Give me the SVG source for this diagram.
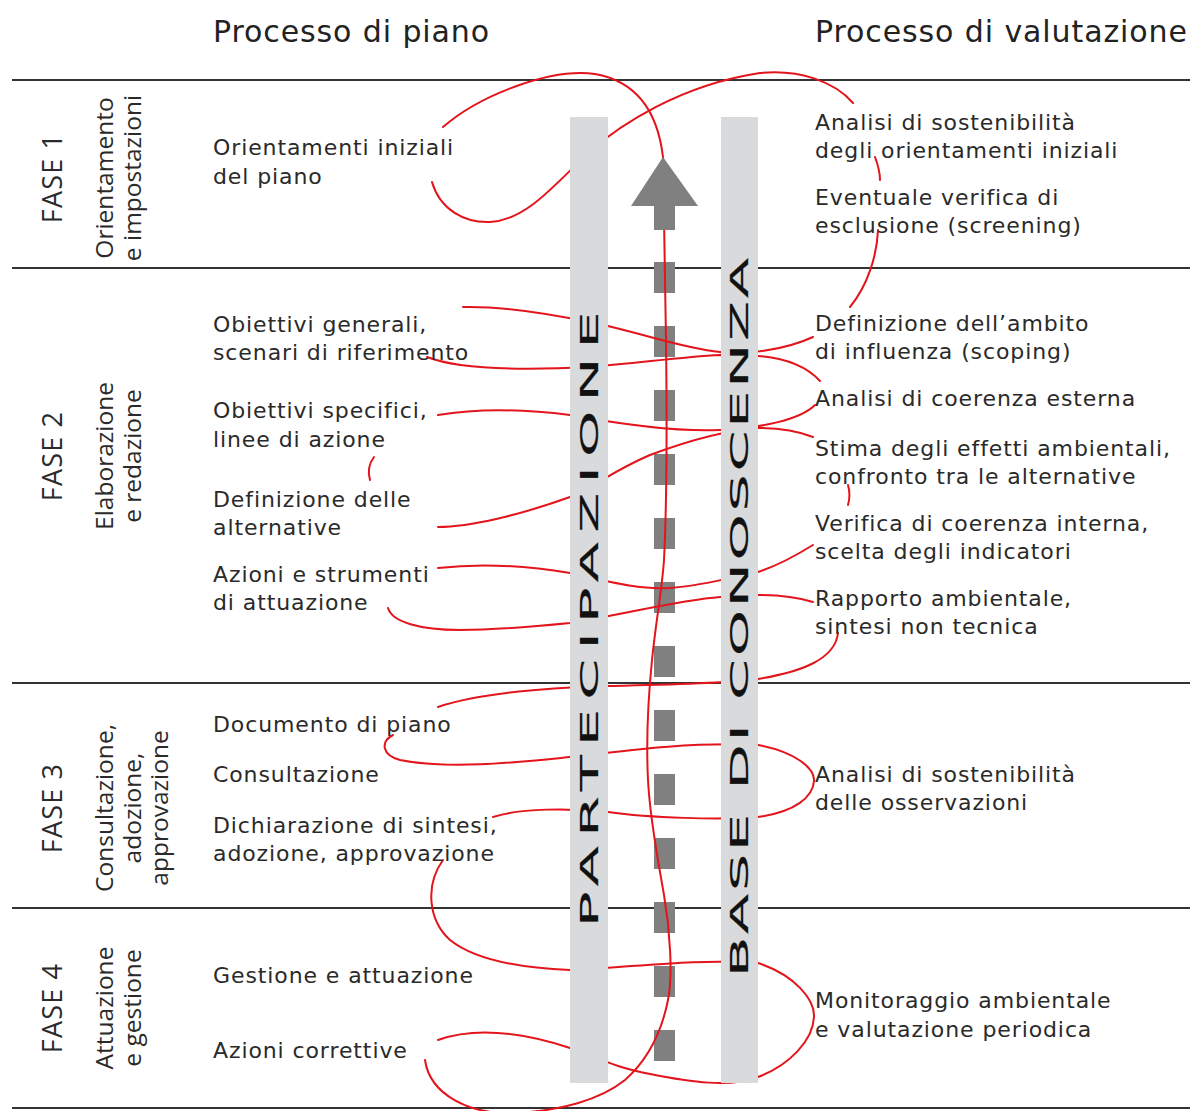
<svg xmlns="http://www.w3.org/2000/svg" width="1190" height="1111" viewBox="0 0 1190 1111">
<style>
.sep{stroke:#333;stroke-width:2;fill:none}
.bar{fill:#d9dadc}
.arw{fill:#808080}
.red{stroke:#e3141b;stroke-width:2;fill:none;stroke-linecap:round}
.hd{font-family:"DejaVu Sans",Verdana,sans-serif;font-size:30px;letter-spacing:0.9px;fill:#222}
.tx{font-family:"DejaVu Sans",Verdana,sans-serif;font-size:22px;letter-spacing:0.9px;fill:#2a2a2a}
.fs{font-family:"Open Sans","Noto Sans",sans-serif;font-size:27px;letter-spacing:1.2px;fill:#2a2a2a;text-anchor:middle}
.fd{font-family:"Open Sans","Noto Sans",sans-serif;font-size:24.5px;fill:#2a2a2a;text-anchor:middle}
.big{font-family:"DejaVu Sans",Verdana,sans-serif;font-size:25px;fill:#111;stroke:#111;stroke-width:0.2}
</style>
<rect width="1190" height="1111" fill="#fff"/>
<g id="separators">
<line class="sep" x1="12" y1="80" x2="1190" y2="80"/>
<line class="sep" x1="12" y1="268" x2="1190" y2="268"/>
<line class="sep" x1="12" y1="683" x2="1190" y2="683"/>
<line class="sep" x1="12" y1="908" x2="1190" y2="908"/>
<line class="sep" x1="12" y1="1108" x2="1190" y2="1108"/>
</g>
<g id="dashes" class="arw">
<rect x="654" y="262" width="21" height="31"/>
<rect x="654" y="326" width="21" height="31"/>
<rect x="654" y="390" width="21" height="31"/>
<rect x="654" y="454" width="21" height="31"/>
<rect x="654" y="518" width="21" height="31"/>
<rect x="654" y="582" width="21" height="31"/>
<rect x="654" y="646" width="21" height="31"/>
<rect x="654" y="710" width="21" height="31"/>
<rect x="654" y="774" width="21" height="31"/>
<rect x="654" y="838" width="21" height="31"/>
<rect x="654" y="902" width="21" height="31"/>
<rect x="654" y="966" width="21" height="31"/>
<rect x="654" y="1030" width="21" height="31"/>
</g>
<g id="connectors" class="red">
<path d="M425,1060 C430,1095 470,1115 515,1113 C560,1111 600,1100 625,1080 C650,1058 662,1030 668,1000 C673,975 670,930 664,895 C658,860 650,820 648,780 C646,740 648,700 652,660 C656,620 662,590 664,560 C667,500 667,420 666,340 C665,280 664,220 663,157 C658,115 640,82 595,74 C550,68 480,95 443,127"/>
<path d="M432,182 C440,210 465,223 490,222 C525,220 550,190 589,152 C620,125 680,85 760,73 C800,69 835,82 853,103"/>
<path d="M875,157 C878,165 880,172 880,180"/>
<path d="M878,230 C877,255 868,285 850,307"/>
<path d="M813,337 C785,350 745,355 720,352 C680,348 640,332 589,322 C540,312 500,306 463,307"/>
<path d="M820,381 C805,365 785,358 758,356 L720,355 C680,357 640,363 589,367 C530,370 460,370 427,357"/>
<path d="M438,415 C480,408 530,410 570,415 C620,424 680,432 720,430 C760,428 800,420 815,405"/>
<path d="M813,437 C795,430 775,428 758,428 C730,430 690,440 650,455 C610,472 590,490 570,497 C520,515 470,527 438,527"/>
<path d="M374,457 C368,465 368,473 370,480"/>
<path d="M848,485 C850,492 850,498 848,505"/>
<path d="M438,568 C490,562 540,568 570,573 C610,582 640,590 670,588 C700,586 730,578 758,572 C780,565 800,553 813,545"/>
<path d="M388,608 C392,622 420,630 460,630 C500,630 540,626 570,623 C620,615 680,600 720,597 L758,595 C785,595 800,598 813,602"/>
<path d="M838,633 C835,660 800,672 758,679 C720,684 650,685 608,686 C540,688 480,693 438,707"/>
<path d="M393,735 C380,742 382,755 400,760 C450,770 520,762 570,757 C630,750 690,742 758,745 C795,752 815,768 814,781 C813,797 795,812 758,817 C720,820 650,818 608,812 C570,808 520,808 493,817"/>
<path d="M443,860 C425,885 428,920 450,940 C475,960 520,968 570,970 C630,968 690,958 758,963 C795,975 815,1000 814,1017 C813,1040 790,1065 758,1077 C730,1088 690,1082 650,1074 C610,1066 600,1058 570,1048 C530,1035 480,1025 438,1040"/>
</g>
<g id="arrow-head" class="arw">
<polygon points="663,157 698,206 631,206"/>
<rect x="654" y="205" width="21" height="25"/>
</g>
<g id="bar-partecipazione">
<rect class="bar" x="570" y="117" width="38" height="966"/>
<text class="big" transform="translate(598,927) rotate(-90) scale(2.35,1)" textLength="262" lengthAdjust="spacing">PARTECIPAZIONE</text>
</g>
<g id="bar-conoscenza">
<rect class="bar" x="721" y="117" width="37" height="966"/>
<text class="big" transform="translate(748,977) rotate(-90) scale(2.35,1)" textLength="306" lengthAdjust="spacing">BASE DI CONOSCENZA</text>
</g>
<g id="headers">
<text class="hd" x="213" y="42">Processo di piano</text>
<text class="hd" x="815" y="42">Processo di valutazione</text>
</g>
<g id="fase1">
<text class="fs" transform="translate(62,178) rotate(-90)">FASE 1</text>
<text class="fd" transform="translate(113,178) rotate(-90)">Orientamento</text>
<text class="fd" transform="translate(141,178) rotate(-90)">e impostazioni</text>
</g>
<g id="fase2">
<text class="fs" transform="translate(62,456) rotate(-90)">FASE 2</text>
<text class="fd" transform="translate(113,456) rotate(-90)">Elaborazione</text>
<text class="fd" transform="translate(141,456) rotate(-90)">e redazione</text>
</g>
<g id="fase3">
<text class="fs" transform="translate(62,808) rotate(-90)">FASE 3</text>
<text class="fd" transform="translate(113,808) rotate(-90)">Consultazione,</text>
<text class="fd" transform="translate(141,808) rotate(-90)">adozione,</text>
<text class="fd" transform="translate(168,808) rotate(-90)">approvazione</text>
</g>
<g id="fase4">
<text class="fs" transform="translate(62,1008) rotate(-90)">FASE 4</text>
<text class="fd" transform="translate(113,1008) rotate(-90)">Attuazione</text>
<text class="fd" transform="translate(141,1008) rotate(-90)">e gestione</text>
</g>
<g id="piano-orientamenti"><text class="tx" x="213" y="155">Orientamenti iniziali</text><text class="tx" x="213" y="184">del piano</text></g>
<g id="piano-obiettivi-generali"><text class="tx" x="213" y="332">Obiettivi generali,</text><text class="tx" x="213" y="360">scenari di riferimento</text></g>
<g id="piano-obiettivi-specifici"><text class="tx" x="213" y="418">Obiettivi specifici,</text><text class="tx" x="213" y="447">linee di azione</text></g>
<g id="piano-alternative"><text class="tx" x="213" y="507">Definizione delle</text><text class="tx" x="213" y="535">alternative</text></g>
<g id="piano-azioni"><text class="tx" x="213" y="582">Azioni e strumenti</text><text class="tx" x="213" y="610">di attuazione</text></g>
<g id="piano-documento"><text class="tx" x="213" y="732">Documento di piano</text></g>
<g id="piano-consultazione"><text class="tx" x="213" y="782">Consultazione</text></g>
<g id="piano-dichiarazione"><text class="tx" x="213" y="833">Dichiarazione di sintesi,</text><text class="tx" x="213" y="861">adozione, approvazione</text></g>
<g id="piano-gestione"><text class="tx" x="213" y="983">Gestione e attuazione</text></g>
<g id="piano-correttive"><text class="tx" x="213" y="1058">Azioni correttive</text></g>
<g id="val-sostenibilita"><text class="tx" x="815" y="130">Analisi di sostenibilità</text><text class="tx" x="815" y="158">degli orientamenti iniziali</text></g>
<g id="val-screening"><text class="tx" x="815" y="205">Eventuale verifica di</text><text class="tx" x="815" y="233">esclusione (screening)</text></g>
<g id="val-scoping"><text class="tx" x="815" y="331">Definizione dell’ambito</text><text class="tx" x="815" y="359">di influenza (scoping)</text></g>
<g id="val-coerenza-esterna"><text class="tx" x="815" y="406">Analisi di coerenza esterna</text></g>
<g id="val-stima"><text class="tx" x="815" y="456">Stima degli effetti ambientali,</text><text class="tx" x="815" y="484">confronto tra le alternative</text></g>
<g id="val-coerenza-interna"><text class="tx" x="815" y="531">Verifica di coerenza interna,</text><text class="tx" x="815" y="559">scelta degli indicatori</text></g>
<g id="val-rapporto"><text class="tx" x="815" y="606">Rapporto ambientale,</text><text class="tx" x="815" y="634">sintesi non tecnica</text></g>
<g id="val-osservazioni"><text class="tx" x="815" y="782">Analisi di sostenibilità</text><text class="tx" x="815" y="810">delle osservazioni</text></g>
<g id="val-monitoraggio"><text class="tx" x="815" y="1008">Monitoraggio ambientale</text><text class="tx" x="815" y="1037">e valutazione periodica</text></g>
</svg>
